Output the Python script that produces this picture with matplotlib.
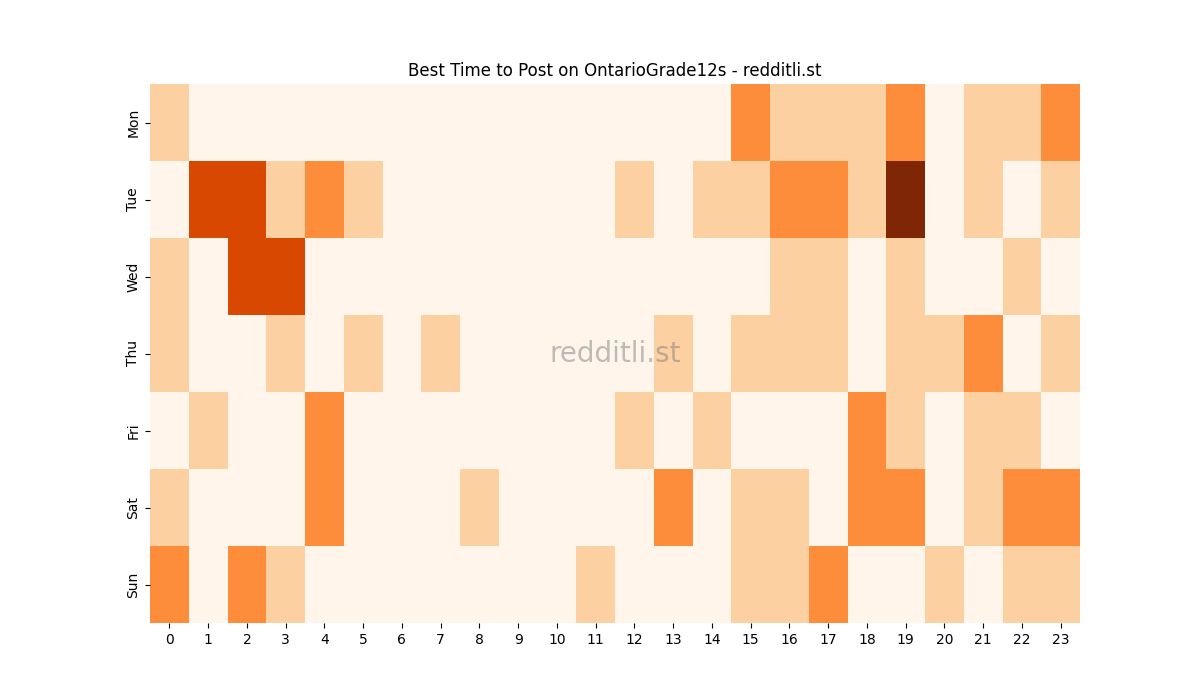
import matplotlib
matplotlib.use("Agg")
import matplotlib.pyplot as plt
import numpy as np

days = ["Mon", "Tue", "Wed", "Thu", "Fri", "Sat", "Sun"]
hours = [str(h) for h in range(24)]

mon = [1,0,0,0,0,0,0,0,0,0,0,0,0,0,0,2,1,1,1,2,0,1,1,2]
tue = [0,3,3,1,2,1,0,0,0,0,0,0,1,0,1,1,2,2,1,4,0,1,0,1]
wed = [1,0,3,3,0,0,0,0,0,0,0,0,0,0,0,0,1,1,0,1,0,0,1,0]
thu = [1,0,0,1,0,1,0,1,0,0,0,0,0,1,0,1,1,1,0,1,1,2,0,1]
fri = [0,1,0,0,2,0,0,0,0,0,0,0,1,0,1,0,0,0,2,1,0,1,1,0]
sat = [1,0,0,0,2,0,0,0,1,0,0,0,0,2,0,1,1,0,2,2,0,1,2,2]
sun = [2,0,2,1,0,0,0,0,0,0,0,1,0,0,0,1,1,2,0,0,1,0,1,1]

data = np.array([mon, tue, wed, thu, fri, sat, sun])

fig, ax = plt.subplots(figsize=(12, 7), dpi=100)
ax.pcolormesh(data, cmap="Oranges", vmin=0, vmax=4)
ax.set_xlim(0, len(hours))
ax.set_ylim(len(days), 0)
ax.set_xticks(np.arange(len(hours)) + 0.5)
ax.set_xticklabels(hours)
ax.set_yticks(np.arange(len(days)) + 0.5)
ax.set_yticklabels(days, rotation=90, va="center")
for s in ax.spines.values():
    s.set_visible(False)
ax.set_title("Best Time to Post on OntarioGrade12s - redditli.st")
ax.text(0.5, 0.5, "redditli.st", transform=ax.transAxes, ha="center", va="center",
        fontsize=20, color="gray", alpha=0.5)
fig.savefig("out.png", dpi=100)
